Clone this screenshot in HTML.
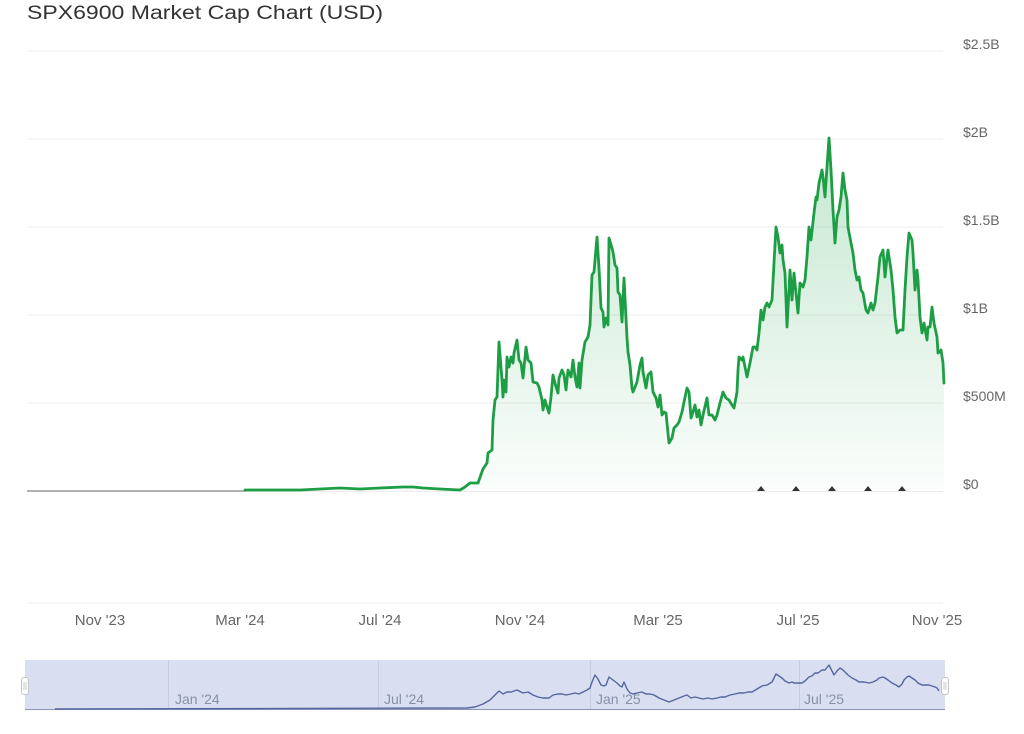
<!DOCTYPE html>
<html>
<head>
<meta charset="utf-8">
<style>
  html,body{margin:0;padding:0;background:#fff;}
  svg{display:block;}
  text{font-family:"Liberation Sans",Arial,sans-serif;}
</style>
</head>
<body>
<svg width="1024" height="734" viewBox="0 0 1024 734" xmlns="http://www.w3.org/2000/svg">
  <defs>
    <linearGradient id="g" x1="0" y1="138" x2="0" y2="491" gradientUnits="userSpaceOnUse">
      <stop offset="0" stop-color="#1fa34a" stop-opacity="0.26"/>
      <stop offset="1" stop-color="#1fa34a" stop-opacity="0.02"/>
    </linearGradient>
  </defs>

  <!-- title -->
  <text x="27" y="19" font-size="19" fill="#333" textLength="356" lengthAdjust="spacingAndGlyphs">SPX6900 Market Cap Chart (USD)</text>

  <!-- gridlines -->
  <g stroke="#ececec" stroke-width="1">
    <line x1="27" y1="51" x2="943" y2="51"/>
    <line x1="27" y1="139" x2="943" y2="139"/>
    <line x1="27" y1="227" x2="943" y2="227"/>
    <line x1="27" y1="315" x2="943" y2="315"/>
    <line x1="27" y1="403" x2="943" y2="403"/>
    <line x1="27" y1="491.5" x2="943" y2="491.5"/>
    <line x1="27" y1="603" x2="943" y2="603"/>
  </g>

  <!-- y labels -->
  <g font-size="14" fill="#666">
    <text x="963" y="49">$2.5B</text>
    <text x="963" y="137">$2B</text>
    <text x="963" y="225">$1.5B</text>
    <text x="963" y="313">$1B</text>
    <text x="963" y="401">$500M</text>
    <text x="963" y="489">$0</text>
  </g>

  <!-- x labels -->
  <g font-size="15" fill="#666" text-anchor="middle">
    <text x="100" y="625">Nov '23</text>
    <text x="240" y="625">Mar '24</text>
    <text x="380" y="625">Jul '24</text>
    <text x="520" y="625">Nov '24</text>
    <text x="658" y="625">Mar '25</text>
    <text x="798" y="625">Jul '25</text>
    <text x="937" y="625">Nov '25</text>
  </g>

  <!-- area fill -->
  <path fill="url(#g)" d="M245,490 L300,490 340,488 360,489 380,488 403,487 413,487 423,488 440,489 460,490 465,487 470,483 478,483 483,469 487,463 488,453 492,450 493,420 495,400 497,397 499,342 502,380 503,397 504,380 506,392 507,357 509,367 511,357 513,363 514,353 517,340 519,360 521,363 523,378 526,347 528,360 531,363 533,382 537,383 539,387 542,400 543,410 545,400 547,407 549,413 551,397 553,375 556,387 558,393 559,378 562,370 564,375 566,390 568,370 571,377 573,360 575,377 577,387 579,363 580,388 582,360 585,342 588,337 590,325 592,275 594,272 597,237 599,268 601,308 603,312 604,327 606,318 608,325 609,238 612,248 613,252 615,265 617,268 618,292 620,295 622,322 624,278 627,338 628,352 630,365 632,388 633,392 637,382 640,365 642,358 643,372 646,388 648,375 651,372 653,392 656,398 658,407 660,395 662,415 664,412 666,413 669,443 672,438 674,428 677,425 679,422 682,412 684,402 687,388 689,392 691,418 693,412 695,405 697,417 699,410 701,425 703,415 707,398 709,415 712,415 715,420 717,415 720,403 723,392 726,398 729,400 732,405 734,408 737,392 738,370 739,357 742,360 743,357 747,377 750,363 753,347 755,347 757,350 759,333 761,310 763,320 765,307 767,303 769,307 772,300 774,263 776,227 778,237 780,253 782,245 783,260 785,273 787,327 790,270 792,300 794,273 796,293 798,313 800,283 803,287 805,280 807,257 809,227 811,240 814,213 816,197 817,200 819,183 822,170 823,177 825,197 827,167 829,138 831,170 833,210 835,243 837,217 839,210 841,197 843,173 845,190 847,200 848,227 851,243 853,253 855,270 857,280 859,277 861,290 863,293 866,310 868,313 871,303 873,310 875,303 878,277 880,257 883,250 885,277 887,257 888,250 891,270 893,290 895,317 897,333 900,330 903,330 905,290 907,257 909,233 912,240 913,253 915,290 917,270 918,280 920,317 922,333 924,323 927,340 928,327 930,327 932,307 934,323 937,337 938,353 941,350 943,363 944,383 L944,491 L245,491 Z"/>

  <!-- gray early line -->
  <line x1="27" y1="491" x2="246" y2="491" stroke="#9a9a9a" stroke-width="1.6"/>

  <!-- main line -->
  <path fill="none" stroke="#1d9e45" stroke-width="2.8" stroke-linejoin="round" stroke-linecap="round" d="M245,490 L300,490 340,488 360,489 380,488 403,487 413,487 423,488 440,489 460,490 465,487 470,483 478,483 483,469 487,463 488,453 492,450 493,420 495,400 497,397 499,342 502,380 503,397 504,380 506,392 507,357 509,367 511,357 513,363 514,353 517,340 519,360 521,363 523,378 526,347 528,360 531,363 533,382 537,383 539,387 542,400 543,410 545,400 547,407 549,413 551,397 553,375 556,387 558,393 559,378 562,370 564,375 566,390 568,370 571,377 573,360 575,377 577,387 579,363 580,388 582,360 585,342 588,337 590,325 592,275 594,272 597,237 599,268 601,308 603,312 604,327 606,318 608,325 609,238 612,248 613,252 615,265 617,268 618,292 620,295 622,322 624,278 627,338 628,352 630,365 632,388 633,392 637,382 640,365 642,358 643,372 646,388 648,375 651,372 653,392 656,398 658,407 660,395 662,415 664,412 666,413 669,443 672,438 674,428 677,425 679,422 682,412 684,402 687,388 689,392 691,418 693,412 695,405 697,417 699,410 701,425 703,415 707,398 709,415 712,415 715,420 717,415 720,403 723,392 726,398 729,400 732,405 734,408 737,392 738,370 739,357 742,360 743,357 747,377 750,363 753,347 755,347 757,350 759,333 761,310 763,320 765,307 767,303 769,307 772,300 774,263 776,227 778,237 780,253 782,245 783,260 785,273 787,327 790,270 792,300 794,273 796,293 798,313 800,283 803,287 805,280 807,257 809,227 811,240 814,213 816,197 817,200 819,183 822,170 823,177 825,197 827,167 829,138 831,170 833,210 835,243 837,217 839,210 841,197 843,173 845,190 847,200 848,227 851,243 853,253 855,270 857,280 859,277 861,290 863,293 866,310 868,313 871,303 873,310 875,303 878,277 880,257 883,250 885,277 887,257 888,250 891,270 893,290 895,317 897,333 900,330 903,330 905,290 907,257 909,233 912,240 913,253 915,290 917,270 918,280 920,317 922,333 924,323 927,340 928,327 930,327 932,307 934,323 937,337 938,353 941,350 943,363 944,383"/>

  <!-- event markers -->
  <g fill="#333">
    <polygon points="757,491 761,486 765,491"/>
    <polygon points="792,491 796,486 800,491"/>
    <polygon points="828,491 832,486 836,491"/>
    <polygon points="864,491 868,486 872,491"/>
    <polygon points="898,491 902,486 906,491"/>
  </g>

  <!-- navigator -->
  <rect x="25" y="660" width="920" height="50" fill="#d9dff0"/>
  <g stroke="#c6cde0" stroke-width="1">
    <line x1="168.5" y1="660" x2="168.5" y2="710"/>
    <line x1="378.5" y1="660" x2="378.5" y2="710"/>
    <line x1="590.5" y1="660" x2="590.5" y2="710"/>
    <line x1="799.5" y1="660" x2="799.5" y2="710"/>
  </g>
  <g font-size="14" fill="#8790a8">
    <text x="175" y="704">Jan '24</text>
    <text x="384" y="704">Jul '24</text>
    <text x="596" y="704">Jan '25</text>
    <text x="804" y="704">Jul '25</text>
  </g>
  <line x1="25" y1="709.5" x2="945" y2="709.5" stroke="#8a93b8" stroke-width="1"/>
  <path fill="none" stroke="#55659f" stroke-width="1.4" stroke-linejoin="round"
        d="M55,709 L467,708 475,707 483,704 490,700 495,695 499,691 503,694 507,692 511,692 517,690 523,693 528,692 533,695 538,697 543,698 549,698 553,695 558,694 562,694 566,695 571,694 575,693 579,694 583,692 587,690 590,688 592,682 595,675 598,679 601,685 604,686 606,685 609,677 613,680 617,683 620,686 622,687 624,682 627,689 630,693 633,694 637,693 642,692 646,694 650,694 654,695 659,698 664,700 669,702 674,700 679,698 684,696 687,695 691,698 695,697 699,698 703,699 708,698 712,699 717,698 721,697 725,697 730,695 735,694 739,693 744,693 748,692 752,692 757,689 762,686 767,685 772,682 774,678 776,674 779,676 782,678 785,681 789,683 792,682 794,683 798,683 802,683 805,681 809,677 812,676 815,673 818,673 822,670 825,670 829,665 832,671 834,675 837,671 840,668 843,670 845,672 848,675 852,678 856,680 859,682 864,682 869,683 873,682 877,680 879,678 883,677 885,678 888,680 892,683 896,685 899,687 902,684 904,680 907,677 909,676 912,678 915,680 918,683 922,685 926,685 929,685 932,686 935,687 937,688 939,691"/>
  <!-- handles -->
  <rect x="21.5" y="677.5" width="7" height="17" rx="2.5" fill="#fff" stroke="#c4c4c4" stroke-width="1"/>
  <rect x="941.5" y="677.5" width="7" height="17" rx="2.5" fill="#fff" stroke="#c4c4c4" stroke-width="1"/>
  <line x1="24" y1="682" x2="24" y2="690" stroke="#bbb" stroke-width="0.8"/>
  <line x1="26" y1="682" x2="26" y2="690" stroke="#bbb" stroke-width="0.8"/>
  <line x1="944" y1="682" x2="944" y2="690" stroke="#bbb" stroke-width="0.8"/>
  <line x1="946" y1="682" x2="946" y2="690" stroke="#bbb" stroke-width="0.8"/>
</svg>
</body>
</html>
